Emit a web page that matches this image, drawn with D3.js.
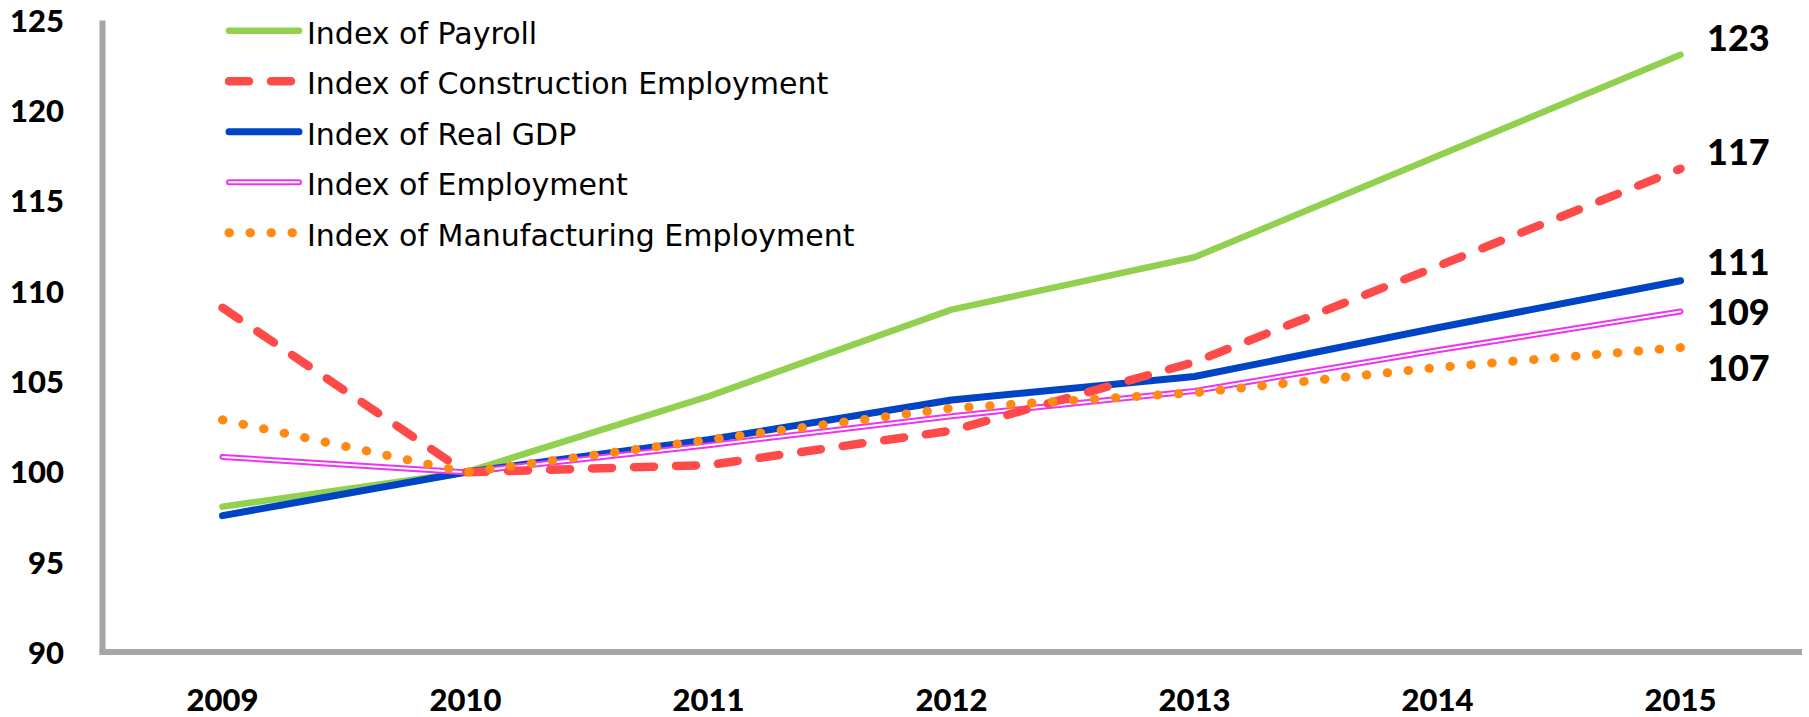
<!DOCTYPE html>
<html>
<head>
<meta charset="utf-8">
<script src="https://cdn.jsdelivr.net/npm/d3@7"></script>
<style>
  html, body { margin: 0; padding: 0; background: #ffffff; }
  svg { display: block; }
</style>
</head>
<body>
<svg id="chart" width="1809" height="717"></svg>
<script>
// ---- data ----
const years = ["2009", "2010", "2011", "2012", "2013", "2014", "2015"];
const payroll = [98.1, 100, 104.2, 109.0, 111.9, 117.5, 123.1];
const construction = [109.1, 100, 100.4, 102.3, 106.1, 111.4, 116.8];
const realGDP = [97.6, 100, 101.8, 104.0, 105.3, 108.0, 110.6];
const employment = [100.85, 100, 101.5, 103.1, 104.5, 106.75, 108.9];
const manufacturing = [102.9, 100, 101.8, 103.55, 104.4, 105.8, 106.9];
const seriesNames = [
  "Index of Payroll",
  "Index of Construction Employment",
  "Index of Real GDP",
  "Index of Employment",
  "Index of Manufacturing Employment"
];
const yTicks = [90, 95, 100, 105, 110, 115, 120, 125];

// ---- styles ----
const styles = [
  { color: "#92d050", width: 6.5, dash: null },
  { color: "#ff4a4a", width: 8.5, dash: "20,22" },
  { color: "#0044c6", width: 7, dash: null },
  { color: "#ee33f2", width: 6, dash: null, dbl: true },
  { color: "#ff8a12", width: 9, dash: "0.5,20.5" }
];
const seriesValues = [payroll, construction, realGDP, employment, manufacturing];
const drawOrder = [0, 2, 3, 1, 4];
const labelDy = [-17, -17, -19, 1, 20];

const svg = d3.select("#chart");

const x = d3.scalePoint().domain(years).range([101, 1802]).padding(0.5);
const y = d3.scaleLinear().domain([90, 125]).range([653, 20.5]);

const numFont = "Lato, 'Open Sans', sans-serif";

// axes lines
const axisColor = "#a6a6a6";
svg.append("line")
  .attr("x1", 102.5).attr("x2", 102.5)
  .attr("y1", y(125)).attr("y2", y(90) + 1)
  .attr("stroke", axisColor).attr("stroke-width", 6);
svg.append("line")
  .attr("x1", 99.5).attr("x2", 1802)
  .attr("y1", y(90) - 1).attr("y2", y(90) - 1)
  .attr("stroke", axisColor).attr("stroke-width", 6);

// y tick labels
svg.append("g").selectAll("text").data(yTicks).join("text")
  .attr("x", 64)
  .attr("y", d => y(d))
  .attr("dy", "0.36em")
  .attr("text-anchor", "end")
  .attr("font-family", numFont)
  .attr("font-weight", 900)
  .attr("font-size", 31)
  .attr("fill", "#000")
  .text(d => d);

// x tick labels
svg.append("g").selectAll("text").data(years).join("text")
  .attr("x", d => x(d))
  .attr("y", 700)
  .attr("dy", "0.36em")
  .attr("text-anchor", "middle")
  .attr("font-family", numFont)
  .attr("font-weight", 900)
  .attr("font-size", 31)
  .attr("fill", "#000")
  .text(d => d);

const line = d3.line()
  .x((d, i) => x(years[i]))
  .y(d => y(d));

function drawPath(g, dAttr, st) {
  const p = g.append("path")
    .attr("d", dAttr)
    .attr("fill", "none")
    .attr("stroke", st.color)
    .attr("stroke-width", st.width)
    .attr("stroke-linecap", "round")
    .attr("stroke-linejoin", "round");
  if (st.dash) p.attr("stroke-dasharray", st.dash);
  if (st.dbl) {
    g.append("path")
      .attr("d", dAttr)
      .attr("fill", "none")
      .attr("stroke", "#ffffff")
      .attr("stroke-width", 2)
      .attr("stroke-linecap", "round")
      .attr("stroke-linejoin", "round");
  }
}

// series lines
const linesG = svg.append("g");
drawOrder.forEach(i => {
  drawPath(linesG.append("g"), line(seriesValues[i]), styles[i]);
});

// end labels
svg.append("g").selectAll("text").data(seriesValues).join("text")
  .attr("x", 1707)
  .attr("y", (d, i) => y(d[d.length - 1]) + labelDy[i])
  .attr("dy", "0.36em")
  .attr("font-family", numFont)
  .attr("font-weight", 900)
  .attr("font-size", 36)
  .attr("fill", "#000")
  .text(d => Math.round(d[d.length - 1]));

// legend
const legend = svg.append("g");
seriesNames.forEach((name, i) => {
  const ry = 30.7 + i * 50.5;
  const g = legend.append("g");
  drawPath(g, d3.line()([[229, ry], [299, ry]]), styles[i]);
  g.append("text")
    .attr("x", 307)
    .attr("y", ry + 13)
    .attr("font-family", "'DejaVu Sans', sans-serif")
    .attr("font-size", 30)
    .attr("fill", "#000")
    .text(name);
});
</script>
</body>
</html>
